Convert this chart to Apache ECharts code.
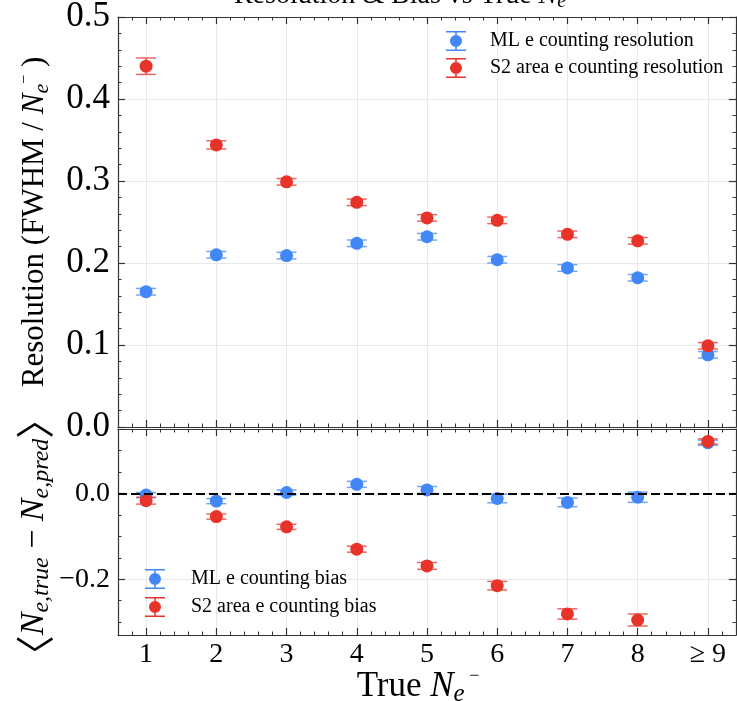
<!DOCTYPE html>
<html>
<head>
<meta charset="utf-8">
<script src="https://cdn.jsdelivr.net/npm/echarts@6/dist/echarts.min.js"></script>
<style>
  html, body { margin: 0; padding: 0; background: #fff; }
  #chart { width: 737px; height: 701px; }
</style>
</head>
<body>
<div id="chart"></div>
<script>
// data
const nValues = [1, 2, 3, 4, 5, 6, 7, 8, 9];
const xTickLabels = ['1', '2', '3', '4', '5', '6', '7', '8', '≥ 9'];

const mlResolution    = [0.165, 0.210, 0.209, 0.224, 0.232, 0.204, 0.194, 0.182, 0.088];
const mlResolutionErr = [0.004, 0.004, 0.004, 0.004, 0.004, 0.004, 0.004, 0.004, 0.004];
const s2Resolution    = [0.440, 0.344, 0.299, 0.274, 0.255, 0.252, 0.235, 0.227, 0.099];
const s2ResolutionErr = [0.010, 0.005, 0.004, 0.004, 0.004, 0.004, 0.004, 0.004, 0.004];

const mlBias    = [-0.004, -0.018, 0.002, 0.021, 0.008, -0.012, -0.021, -0.009, 0.118];
const mlBiasErr = [0.006, 0.006, 0.006, 0.007, 0.008, 0.010, 0.010, 0.012, 0.006];
const s2Bias    = [-0.017, -0.054, -0.078, -0.130, -0.169, -0.215, -0.281, -0.295, 0.121];
const s2BiasErr = [0.008, 0.006, 0.006, 0.007, 0.008, 0.010, 0.012, 0.014, 0.006];

const biasTicks = [-0.2, 0];
const biasMinorTicks = [-0.3, -0.25, -0.2, -0.15, -0.1, -0.05, 0, 0.05, 0.1, 0.15];

const BLUE = '#4287f5';
const RED = '#e8332a';
const SERIF = "'Liberation Serif', 'DejaVu Serif', serif";
const FRAME = '#333';

const chart = echarts.init(document.getElementById('chart'));

// rich styles for N_{e^-} style labels
function mathRich(F) {
  const L = Math.round(F * 1.15);
  return {
    r: { fontFamily: SERIF, fontSize: F, lineHeight: L, color: '#000' },
    n: { fontFamily: SERIF, fontSize: F, fontStyle: 'italic', lineHeight: L, color: '#000' },
    s: { fontFamily: SERIF, fontSize: Math.round(F * 0.7), fontStyle: 'italic', lineHeight: Math.round(F * 0.42), verticalAlign: 'bottom', color: '#000' },
    p: { fontFamily: SERIF, fontSize: Math.round(F * 0.5), lineHeight: Math.round(F * 1.0), verticalAlign: 'top', color: '#000' },
    b: { fontFamily: "'Noto Sans CJK SC', " + SERIF, fontSize: Math.round(F * 1.15), lineHeight: L, color: '#000' }
  };
}

function errorBarItem(params, api) {
  const x = api.value(0), y = api.value(1), e = api.value(2);
  const top = api.coord([x, y + e]);
  const bot = api.coord([x, y - e]);
  const half = 10;
  const style = { stroke: api.visual('color'), lineWidth: 1.5, opacity: 0.75 };
  return {
    type: 'group',
    children: [
      { type: 'line', shape: { x1: top[0], y1: top[1], x2: bot[0], y2: bot[1] }, style: style },
      { type: 'line', shape: { x1: top[0] - half, y1: top[1], x2: top[0] + half, y2: top[1] }, style: style },
      { type: 'line', shape: { x1: bot[0] - half, y1: bot[1], x2: bot[0] + half, y2: bot[1] }, style: style }
    ]
  };
}

function points(vals, errs) {
  return nValues.map((n, i) => [n, vals[i], errs[i]]);
}

const legendIcon = 'path://M0,0H20V1.5H0Z M0,18.5H20V20H0Z M9.25,0H10.75V20H9.25Z M4,10A6,6,0,1,1,16,10A6,6,0,1,1,4,10Z';

function xMajor(grid, pos, withLabels) {
  return {
    type: 'value', gridIndex: grid, position: pos, min: 0.6, max: 9.4,
    axisLine: { show: true, onZero: false, lineStyle: { color: FRAME, width: 1.2 } },
    axisTick: { show: true, inside: true, length: 7, customValues: nValues, lineStyle: { color: FRAME, width: 1.2 } },
    axisLabel: withLabels ? {
      show: true, customValues: nValues, margin: 6,
      fontFamily: SERIF, fontSize: 28, color: '#000',
      formatter: v => xTickLabels[nValues.indexOf(Math.round(v))]
    } : { show: false },
    splitLine: { show: pos === 'bottom', lineStyle: { color: '#e8e8e8', width: 1 } }
  };
}

function xMinor(grid, pos) {
  return {
    type: 'value', gridIndex: grid, position: pos, min: 0.6, max: 9.4, interval: 0.2,
    axisLine: { show: false, onZero: false },
    axisTick: { show: true, inside: true, length: 3.5, lineStyle: { color: FRAME, width: 1 } },
    axisLabel: { show: false },
    splitLine: { show: false }
  };
}

const xAxes = [
  xMajor(0, 'bottom', false), xMinor(0, 'bottom'), xMajor(0, 'top', false), xMinor(0, 'top'),
  Object.assign(xMajor(1, 'bottom', true), {
    name: '{r|True }{n|N}{s|e}{p| −}',
    nameLocation: 'middle', nameGap: 32, nameMoveOverlap: false,
    nameTextStyle: { rich: mathRich(35), padding: [0, 18, 0, 0] }
  }),
  xMinor(1, 'bottom'), xMajor(1, 'top', false), xMinor(1, 'top')
];

const yAxes = [
  {
    type: 'value', gridIndex: 0, position: 'left', min: 0, max: 0.5, interval: 0.1,
    axisLine: { show: true, lineStyle: { color: FRAME, width: 1.2 } },
    axisTick: { show: true, inside: true, length: 7, lineStyle: { color: FRAME, width: 1.2 } },
    minorTick: { show: true, splitNumber: 5, length: 3.5, lineStyle: { color: FRAME, width: 1 } },
    axisLabel: { show: true, margin: 8, fontFamily: SERIF, fontSize: 35, color: '#000', formatter: v => v.toFixed(1) },
    splitLine: { show: true, lineStyle: { color: '#e8e8e8', width: 1 } },
    name: '{r|Resolution (FWHM / }{n|N}{s|e}{p|−}{r| )}',
    nameLocation: 'middle', nameGap: 65, nameMoveOverlap: false,
    nameTextStyle: { rich: mathRich(31) }
  },
  {
    type: 'value', gridIndex: 0, position: 'right', min: 0, max: 0.5, interval: 0.1,
    axisLine: { show: true, lineStyle: { color: FRAME, width: 1.2 } },
    axisTick: { show: true, inside: true, length: 7, lineStyle: { color: FRAME, width: 1.2 } },
    minorTick: { show: true, splitNumber: 5, length: 3.5, lineStyle: { color: FRAME, width: 1 } },
    axisLabel: { show: false },
    splitLine: { show: false }
  },
  {
    type: 'value', gridIndex: 1, position: 'left', min: -0.33, max: 0.15,
    axisLine: { show: true, lineStyle: { color: FRAME, width: 1.2 } },
    axisTick: { show: true, inside: true, length: 7, customValues: biasTicks, lineStyle: { color: FRAME, width: 1.2 } },
    axisLabel: {
      show: true, customValues: biasTicks, margin: 8, fontFamily: SERIF, fontSize: 28, color: '#000',
      formatter: v => (v < 0 ? '−' : '') + Math.abs(v).toFixed(1)
    },
    splitLine: { show: true, lineStyle: { color: '#e8e8e8', width: 1 } },
    name: '{b|〈}{n|N}{s|e,true}{r| − }{n|N}{s|e,pred}{b|〉}',
    nameLocation: 'middle', nameGap: 64, nameMoveOverlap: false,
    nameTextStyle: { rich: mathRich(34), padding: [0, 10, 0, 0] }
  },
  {
    type: 'value', gridIndex: 1, position: 'left', min: -0.33, max: 0.15,
    axisLine: { show: false },
    axisTick: { show: true, inside: true, length: 3.5, customValues: biasMinorTicks, lineStyle: { color: FRAME, width: 1 } },
    axisLabel: { show: false },
    splitLine: { show: false }
  },
  {
    type: 'value', gridIndex: 1, position: 'right', min: -0.33, max: 0.15,
    axisLine: { show: true, lineStyle: { color: FRAME, width: 1.2 } },
    axisTick: { show: true, inside: true, length: 7, customValues: biasTicks, lineStyle: { color: FRAME, width: 1.2 } },
    axisLabel: { show: false },
    splitLine: { show: false }
  },
  {
    type: 'value', gridIndex: 1, position: 'right', min: -0.33, max: 0.15,
    axisLine: { show: false },
    axisTick: { show: true, inside: true, length: 3.5, customValues: biasMinorTicks, lineStyle: { color: FRAME, width: 1 } },
    axisLabel: { show: false },
    splitLine: { show: false }
  }
];

function errSeries(name, vals, errs, color, xi, yi, extra) {
  return Object.assign({
    name: name, type: 'custom', xAxisIndex: xi, yAxisIndex: yi,
    renderItem: errorBarItem, itemStyle: { color: color },
    encode: { x: 0, y: 1 }, data: points(vals, errs), silent: true
  }, extra || {});
}

function dotSeries(name, vals, errs, color, xi, yi) {
  return {
    name: name, type: 'scatter', xAxisIndex: xi, yAxisIndex: yi,
    symbol: 'circle', symbolSize: 13, itemStyle: { color: color, opacity: 1 },
    data: points(vals, errs)
  };
}

const option = {
  animation: false,
  backgroundColor: '#fff',
  grid: [
    { left: 118, top: 17, width: 618, height: 410, outerBoundsMode: 'none' },
    { left: 118, top: 429, width: 618, height: 206, outerBoundsMode: 'none' }
  ],
  xAxis: xAxes,
  yAxis: yAxes,
  legend: [
    {
      data: ['ML e counting resolution', 'S2 area e counting resolution'],
      orient: 'vertical', left: 446, top: 31, padding: 0, itemWidth: 20, itemHeight: 20, itemGap: 7,
      icon: legendIcon, textStyle: { fontFamily: SERIF, fontSize: 20, color: '#000', padding: [0, 0, 0, 19] }
    },
    {
      data: ['ML e counting bias', 'S2 area e counting bias'],
      orient: 'vertical', left: 145, top: 569, padding: 0, itemWidth: 20, itemHeight: 20, itemGap: 8,
      icon: legendIcon, textStyle: { fontFamily: SERIF, fontSize: 20, color: '#000', padding: [0, 0, 0, 21] }
    }
  ],
  graphic: [
    {
      type: 'text', x: 400, y: -4,
      style: {
        text: '{r|Resolution & Bias vs True }{n|N}{s|e}',
        rich: mathRich(28), align: 'center', verticalAlign: 'middle'
      }
    }
  ],
  series: [
    errSeries('ML e counting resolution', mlResolution, mlResolutionErr, BLUE, 0, 0),
    dotSeries('ML e counting resolution', mlResolution, mlResolutionErr, BLUE, 0, 0),
    errSeries('S2 area e counting resolution', s2Resolution, s2ResolutionErr, RED, 0, 0),
    dotSeries('S2 area e counting resolution', s2Resolution, s2ResolutionErr, RED, 0, 0),
    errSeries('ML e counting bias', mlBias, mlBiasErr, BLUE, 4, 2, {
      markLine: {
        silent: true, symbol: 'none', label: { show: false },
        lineStyle: { color: '#000', width: 2, type: [9, 4] },
        data: [{ yAxis: 0 }]
      }
    }),
    dotSeries('ML e counting bias', mlBias, mlBiasErr, BLUE, 4, 2),
    errSeries('S2 area e counting bias', s2Bias, s2BiasErr, RED, 4, 2),
    dotSeries('S2 area e counting bias', s2Bias, s2BiasErr, RED, 4, 2)
  ]
};

chart.setOption(option);
</script>
</body>
</html>
